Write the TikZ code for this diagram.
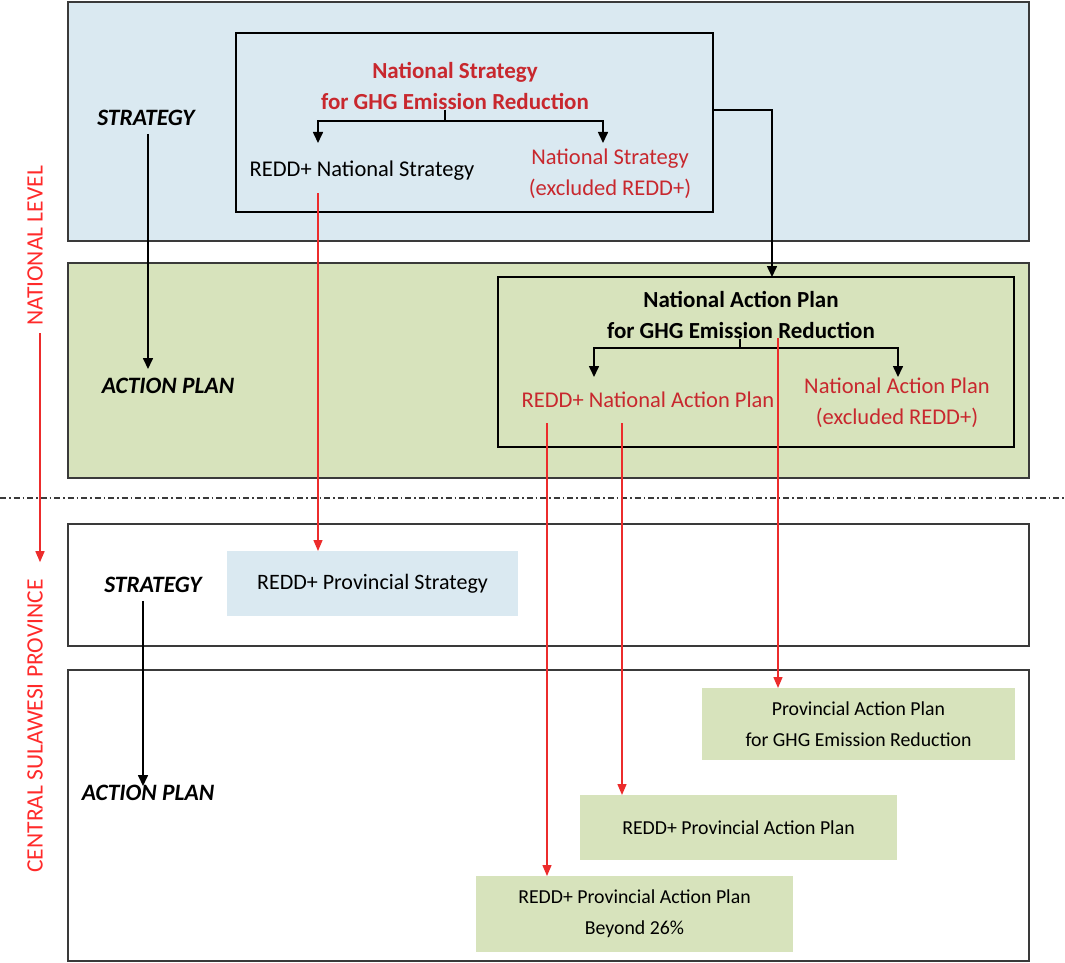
\documentclass[tikz,border=0pt]{standalone}
\usepackage{fontspec}
\setmainfont{Carlito}
\usetikzlibrary{arrows.meta,calc}
\definecolor{bandblue}{HTML}{DAE9F1}
\definecolor{bandgreen}{HTML}{D7E3BC}
\definecolor{txtred}{HTML}{C8282E}
\definecolor{arrred}{HTML}{EC2C2C}
\definecolor{lblred}{HTML}{FF2A2A}
\definecolor{edge}{HTML}{3A3A3A}
\begin{document}
\begin{tikzpicture}[x=1pt,y=-1pt,
  band/.style={draw=edge,line width=2pt,inner sep=0pt,outer sep=0pt,anchor=north west},
  frame/.style={draw=black,line width=1.8pt,inner sep=0pt,outer sep=0pt,anchor=north west},
  plain/.style={inner sep=0pt,outer sep=0pt,anchor=north west},
  txt/.style={font=\fontsize{22.5}{31}\selectfont,align=center,inner sep=0pt},
  ptxt/.style={font=\fontsize{19.8}{31}\selectfont,align=center,inner sep=0pt},
  btxt/.style={font=\fontsize{23}{31}\selectfont\bfseries,align=center,inner sep=0pt},
  lvl/.style={font=\fontsize{23.5}{26}\selectfont\bfseries\itshape,inner sep=0pt},
  side/.style={font=\fontsize{23.5}{26}\selectfont,text=lblred,rotate=90,inner sep=0pt},
  blkarr/.style={draw=black,line width=1.6pt,-{Triangle[width=10pt,length=11pt]}},
  redarr/.style={draw=arrred,line width=1.4pt,-{Triangle[width=9pt,length=11pt]}}
]
\useasboundingbox (0,0) rectangle (1065,963);

% bands
\node[band,fill=bandblue,minimum width=961pt,minimum height=239pt] (band1) at (68,2) {};
\node[band,fill=bandgreen,minimum width=961pt,minimum height=215pt] (band2) at (68,263) {};
\node[band,fill=white,minimum width=961pt,minimum height=122pt] (band3) at (68,524) {};
\node[band,fill=white,minimum width=961pt,minimum height=291pt] (band4) at (68,670) {};

% separator
\coordinate (sepL) at (0,498);
\coordinate (sepR) at (1065,498);
\draw[draw=edge,line width=1.5pt,dash pattern=on 6pt off 3pt on 1.5pt off 3pt] (sepL) -- (sepR);

% national strategy frame
\node[frame,minimum width=477pt,minimum height=179pt] (box1) at (236,33) {};
\node[btxt,text=txtred] (nsg) at (455,86) {National Strategy\\for GHG Emission Reduction};
\node[txt] (rns) at (362,171) {REDD+ National Strategy};
\node[txt,text=txtred] (nsx) at (610,174) {National Strategy\\(excluded REDD+)};
\coordinate (st1) at (445,110);
\coordinate (tip1) at (318,143);
\coordinate (tip2) at (603,143);
\draw[blkarr] (st1) -- ++(0,11) -| (tip1);
\draw[blkarr] (st1) -- ++(0,11) -| (tip2);

% national action plan frame
\node[frame,minimum width=516pt,minimum height=170pt] (box2) at (498,277) {};
\node[btxt] (nap) at (741,315) {National Action Plan\\for GHG Emission Reduction};
\node[txt,text=txtred] (rnap) at (648,400) {REDD+ National Action Plan};
\node[txt,text=txtred] (napx) at (897,403) {National Action Plan\\(excluded REDD+)};
\coordinate (st2) at (740,339);
\coordinate (tip3) at (594,377);
\coordinate (tip4) at (898,377);
\draw[blkarr] (st2) -- ++(0,9) -| (tip3);
\draw[blkarr] (st2) -- ++(0,9) -| (tip4);

% strategy -> action plan frame link
\coordinate (c1) at (713,110);
\coordinate (c2) at (772,277);
\draw[blkarr] (c1) -| (c2);

% level labels
\node[lvl] (s1) at (146,118) {STRATEGY};
\node[lvl] (a1) at (168,386) {ACTION PLAN};
\coordinate (ax1) at (148,0);
\draw[blkarr,shorten <=8pt,shorten >=9pt] (s1.south -| ax1) -- (a1.north -| ax1);
\node[lvl] (s2) at (153,585) {STRATEGY};
\node[lvl] (a2) at (148,793) {ACTION PLAN};
\coordinate (ax2) at (143,0);
\draw[blkarr,shorten <=8pt,shorten >=-1pt] (s2.south -| ax2) -- (a2.north -| ax2);

% side labels
\node[side] (nl) at (35,246) {NATIONAL LEVEL};
\node[side] (csp) at (35,726) {CENTRAL SULAWESI PROVINCE};
\coordinate (lx) at (40,0);
\draw[redarr,shorten <=7pt,shorten >=17pt] (nl.west -| lx) -- (csp.east -| lx);

% provincial boxes
\node[plain,fill=bandblue,minimum width=291pt,minimum height=65pt] (ps) at (227,551) {};
\node[txt,font=\fontsize{22}{31}\selectfont] at (ps.center) {REDD+ Provincial Strategy};
\node[plain,fill=bandgreen,minimum width=313pt,minimum height=72pt] (pap) at (702,688) {};
\node[ptxt] at (pap.center) {Provincial Action Plan\\for GHG Emission Reduction};
\node[plain,fill=bandgreen,minimum width=317pt,minimum height=65pt] (rpap) at (580,795) {};
\node[ptxt] at (rpap.center) {REDD+ Provincial Action Plan};
\node[plain,fill=bandgreen,minimum width=317pt,minimum height=76pt] (bey) at (476,876) {};
\node[ptxt] at (bey.center) {REDD+ Provincial Action Plan\\Beyond 26\%};

% red links
\coordinate (r1) at (318,193);
\coordinate (r2) at (778,338);
\coordinate (r3) at (622,423);
\coordinate (r4) at (547,423);
\draw[redarr] (r1) -- (r1 |- ps.north);
\draw[redarr] (r2) -- (r2 |- pap.north);
\draw[redarr] (r3) -- (r3 |- rpap.north);
\draw[redarr] (r4) -- (r4 |- bey.north);
\end{tikzpicture}
\end{document}
